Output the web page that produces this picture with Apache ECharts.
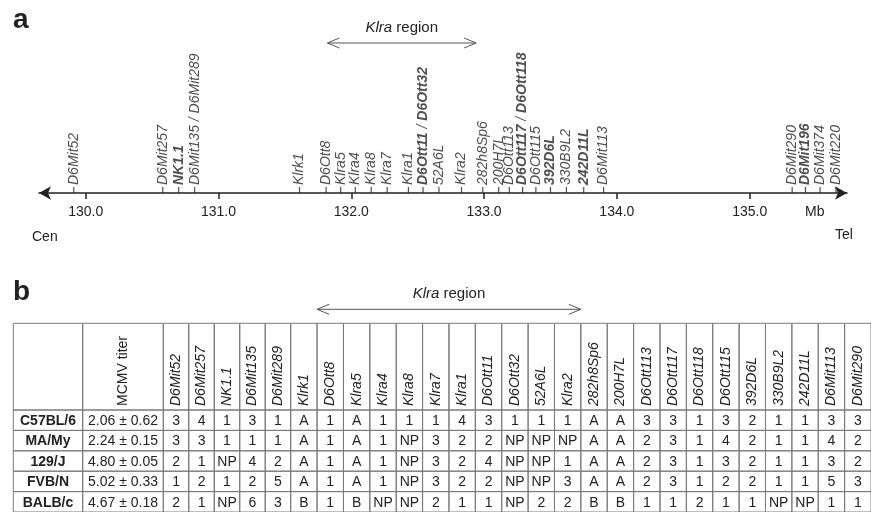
<!DOCTYPE html>
<html>
<head>
<meta charset="utf-8">
<script src="https://cdn.jsdelivr.net/npm/echarts@6/dist/echarts.min.js"></script>
<style>
  html, body { margin: 0; padding: 0; background: #fff; }
  #chart { width: 871px; height: 512px; }
</style>
</head>
<body>
<div id="chart"></div>
<script>
// panel a : marqueurs de la carte (position en Mb)
const markerNames = ['D6Mit52', 'D6Mit257', 'NK1.1', 'D6Mit135 / D6Mit289', 'Klrk1', 'D6Ott8', 'Klra5', 'Klra4',
    'Klra8', 'Klra7', 'Klra1', 'D6Ott11 / D6Ott32', '52A6L', 'Klra2', '282h8Sp6', '200H7L', 'D6Ott113',
    'D6Ott117 / D6Ott118', 'D6Ott115', '392D6L', '330B9L2', '242D11L', 'D6Mit113', 'D6Mit290', 'D6Mit196',
    'D6Mit374', 'D6Mit220'];
const markerMb = [129.91, 130.58, 130.70, 130.82, 131.61, 131.81, 131.92, 132.03, 132.15, 132.27, 132.43, 132.54,
    132.66, 132.83, 132.99, 133.11, 133.19, 133.29, 133.39, 133.50, 133.62, 133.75, 133.90, 135.32, 135.42,
    135.53, 135.65];
const mbTicks = [130, 131, 132, 133, 134, 135];
const klraRegionMb = [131.82, 132.94];

// panel b : tableau des génotypes
const strains = ['C57BL/6', 'MA/My', '129/J', 'FVB/N', 'BALB/c'];
const titers = ['2.06 ± 0.62', '2.24 ± 0.15', '4.80 ± 0.05', '5.02 ± 0.33', '4.67 ± 0.18'];
const tableMarkers = ['D6Mit52', 'D6Mit257', 'NK1.1', 'D6Mit135', 'D6Mit289', 'Klrk1', 'D6Ott8', 'Klra5', 'Klra4',
    'Klra8', 'Klra7', 'Klra1', 'D6Ott11', 'D6Ott32', '52A6L', 'Klra2', '282h8Sp6', '200H7L', 'D6Ott113',
    'D6Ott117', 'D6Ott118', 'D6Ott115', '392D6L', '330B9L2', '242D11L', 'D6Mit113', 'D6Mit290'];
const genotypes = [
    ['3', '4', '1', '3', '1', 'A', '1', 'A', '1', '1', '1', '4', '3', '1', '1', '1', 'A', 'A', '3', '3', '1', '3', '2', '1', '1', '3', '3'],
    ['3', '3', '1', '1', '1', 'A', '1', 'A', '1', 'NP', '3', '2', '2', 'NP', 'NP', 'NP', 'A', 'A', '2', '3', '1', '4', '2', '1', '1', '4', '2'],
    ['2', '1', 'NP', '4', '2', 'A', '1', 'A', '1', 'NP', '3', '2', '4', 'NP', 'NP', '1', 'A', 'A', '2', '3', '1', '3', '2', '1', '1', '3', '2'],
    ['1', '2', '1', '2', '5', 'A', '1', 'A', '1', 'NP', '3', '2', '2', 'NP', 'NP', '3', 'A', 'A', '2', '3', '1', '2', '2', '1', '1', '5', '3'],
    ['2', '1', 'NP', '6', '3', 'B', '1', 'B', 'NP', 'NP', '2', '1', '1', 'NP', '2', '2', 'B', 'B', '1', '1', '2', '1', '1', 'NP', 'NP', '1', '1']
];
const klraTableSpan = ['D6Ott8', 'Klra2'];

const boldNames = ['NK1.1', 'D6Ott11', 'D6Ott32', 'D6Ott117', 'D6Ott118', '392D6L', '242D11L', 'D6Mit196'];
const FONT = '"Liberation Sans", Arial, sans-serif';
const LINE = '#7a7a7a';
const INK = '#222';
const HEADER_H = 86.7;

const chart = echarts.init(document.getElementById('chart'));

function richName(name) {
    return name.split(' / ').map(n => (boldNames.includes(n) ? '{b|' : '{i|') + n + '}').join('{i| / }');
}

// flèche "Klra region"
function arrowGroup(x1, x2, y) {
    const hl = 12, hh = 5;
    return {
        type: 'group',
        children: [
            { type: 'line', shape: { x1: x1, y1: y, x2: x2, y2: y }, style: { stroke: '#555', lineWidth: 1 } },
            { type: 'polyline', shape: { points: [[x1 + hl, y - hh], [x1, y], [x1 + hl, y + hh]] }, style: { stroke: '#555', fill: null, lineWidth: 1 } },
            { type: 'polyline', shape: { points: [[x2 - hl, y - hh], [x2, y], [x2 - hl, y + hh]] }, style: { stroke: '#555', fill: null, lineWidth: 1 } },
            {
                type: 'text', x: (x1 + x2) / 2, y: y - 15,
                style: {
                    text: '{i|Klra} region', fill: INK, fontSize: 15, fontFamily: FONT,
                    align: 'center', verticalAlign: 'middle',
                    rich: { i: { fontStyle: 'italic', fontSize: 15, fontFamily: FONT, fill: INK } }
                }
            }
        ]
    };
}

function headerRender(labels, italic) {
    return function (params, api) {
        const i = params.dataIndex;
        const c = api.coord([i, 0]);
        const w = api.size([1, 1])[0];
        const bottom = params.coordSys.y;
        return {
            type: 'group',
            children: [
                { type: 'rect', shape: { x: c[0] - w / 2, y: bottom - HEADER_H, width: w, height: HEADER_H }, style: { fill: null, stroke: LINE, lineWidth: 1 } },
                {
                    type: 'text', x: c[0], y: bottom - 4, rotation: Math.PI / 2,
                    style: {
                        text: labels[i], align: 'left', verticalAlign: 'middle', fill: INK,
                        fontSize: 14, fontFamily: FONT, fontStyle: italic ? 'italic' : 'normal'
                    }
                }
            ]
        };
    };
}

function bodyRender(texts, bold) {
    return function (params, api) {
        const c = api.coord([api.value(0), api.value(1)]);
        const s = api.size([1, 1]);
        return {
            type: 'group',
            children: [
                { type: 'rect', shape: { x: c[0] - s[0] / 2, y: c[1] - s[1] / 2, width: s[0], height: s[1] }, style: { fill: null, stroke: LINE, lineWidth: 1 } },
                {
                    type: 'text', x: c[0], y: c[1] + 1,
                    style: {
                        text: texts[params.dataIndex], align: 'center', verticalAlign: 'middle', fill: INK,
                        fontSize: 14, fontFamily: FONT, fontWeight: bold ? 'bold' : 'normal'
                    }
                }
            ]
        };
    };
}

// groupes de colonnes du tableau : [grille, colonnes, textes par ligne]
const groups = [
    { left: 13.3, width: 69.4, cols: [''], cell: (r, c) => strains[r], bold: true, italic: false },
    { left: 82.7, width: 80.6, cols: ['MCMV titer'], cell: (r, c) => titers[r], bold: false, italic: false },
    { left: 163.3, width: 127.4, cols: tableMarkers.slice(0, 5), cell: (r, c) => genotypes[r][c], bold: false, italic: true },
    { left: 290.7, width: 590.5, cols: tableMarkers.slice(5), cell: (r, c) => genotypes[r][c + 5], bold: false, italic: true }
];

const grids = [{ left: 39, right: 24, top: 43, bottom: 512 - 193 }];
const xAxes = [{
    type: 'value', gridIndex: 0, min: 129.648, max: 135.733,
    axisLine: { show: true, symbol: ['arrow', 'arrow'], symbolSize: [10, 12], lineStyle: { color: INK, width: 1.5 } },
    axisTick: { show: true, customValues: mbTicks, length: 6, lineStyle: { color: INK, width: 1.5 } },
    axisLabel: { show: true, customValues: mbTicks, formatter: v => Number(v).toFixed(1), color: INK, fontSize: 14, fontFamily: FONT, margin: 12 },
    splitLine: { show: false }
}];
const yAxes = [{ type: 'value', gridIndex: 0, min: 0, max: 1, show: false }];

const series = [
    {
        type: 'scatter', xAxisIndex: 0, yAxisIndex: 0,
        data: markerNames.map((n, i) => ({ value: [markerMb[i], 0], name: n })),
        symbol: 'rect', symbolSize: [1.2, 6], symbolOffset: [0, -3],
        itemStyle: { color: INK },
        label: {
            show: true, position: 'top', distance: 2, rotate: 90, align: 'left', verticalAlign: 'middle',
            formatter: p => richName(p.name),
            rich: {
                i: { fontStyle: 'italic', fontSize: 14, fontFamily: FONT, color: INK },
                b: { fontStyle: 'italic', fontWeight: 'bold', fontSize: 14, fontFamily: FONT, color: INK }
            }
        },
        z: 5
    },
    {
        type: 'custom', xAxisIndex: 0, yAxisIndex: 0,
        data: [klraRegionMb],
        renderItem: function (params, api) {
            const p1 = api.coord([api.value(0), 0]);
            const p2 = api.coord([api.value(1), 0]);
            return arrowGroup(p1[0], p2[0], params.coordSys.y);
        }
    }
];

groups.forEach((g, k) => {
    const gi = k + 1;
    grids.push({ left: g.left, width: g.width, top: 410, height: 103 });
    xAxes.push({ type: 'category', gridIndex: gi, data: g.cols, show: false });
    yAxes.push({ type: 'category', gridIndex: gi, data: strains, inverse: true, show: false });

    series.push({
        type: 'custom', xAxisIndex: gi, yAxisIndex: gi,
        data: g.cols.map((c, i) => [i, 0]),
        renderItem: headerRender(g.cols, g.italic)
    });

    const data = [], texts = [];
    strains.forEach((s, r) => {
        g.cols.forEach((c, i) => {
            data.push([i, r]);
            texts.push(g.cell(r, i));
        });
    });
    series.push({
        type: 'custom', xAxisIndex: gi, yAxisIndex: gi,
        data: data,
        renderItem: bodyRender(texts, g.bold)
    });
});

// flèche Klra au-dessus du tableau
const spanCols = groups[3].cols;
series.push({
    type: 'custom', xAxisIndex: 4, yAxisIndex: 4,
    data: [[spanCols.indexOf(klraTableSpan[0]), spanCols.indexOf(klraTableSpan[1])]],
    renderItem: function (params, api) {
        const w = api.size([1, 1])[0];
        const x1 = api.coord([api.value(0), 0])[0] - w / 2;
        const x2 = api.coord([api.value(1), 0])[0] + w / 2;
        return arrowGroup(x1, x2, params.coordSys.y - HEADER_H - 14);
    }
});

const txt = (text, x, y, size, weight) => ({
    type: 'text', x: x, y: y,
    style: { text: text, fontSize: size, fontWeight: weight || 'normal', fontFamily: FONT, fill: INK, verticalAlign: 'middle' }
});

chart.setOption({
    animation: false,
    grid: grids,
    xAxis: xAxes,
    yAxis: yAxes,
    series: series,
    graphic: [
        txt('a', 13, 20, 28, 'bold'),
        txt('b', 13, 292, 28, 'bold'),
        txt('Cen', 32, 237, 14),
        txt('Tel', 835, 235, 14),
        txt('Mb', 805, 212, 14)
    ]
});
</script>
</body>
</html>
